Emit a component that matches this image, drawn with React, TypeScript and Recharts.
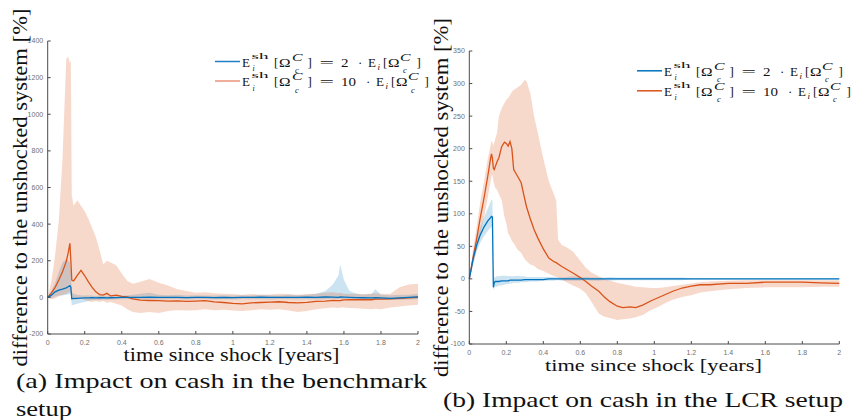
import React from 'react';
import { ComposedChart, Area, Line, XAxis, YAxis } from 'recharts';

// (a) benchmark setup
const tA = [0, 0.02, 0.04, 0.06, 0.08, 0.1, 0.11, 0.12, 0.125, 0.13, 0.14, 0.16, 0.18, 0.2, 0.22, 0.24, 0.26, 0.28, 0.3, 0.32, 0.34, 0.37, 0.4, 0.43, 0.46, 0.5, 0.55, 0.6, 0.65, 0.7, 0.75, 0.8, 0.85, 0.9, 0.95, 1.0, 1.05, 1.1, 1.15, 1.2, 1.25, 1.3, 1.35, 1.4, 1.45, 1.5, 1.54, 1.57, 1.58, 1.6, 1.63, 1.67, 1.7, 1.75, 1.77, 1.8, 1.85, 1.9, 1.95, 2.0];
const aOrange = [0, 25, 55, 95, 140, 195, 240, 295, 200, 95, 90, 120, 148, 118, 85, 55, 30, 15, 12, 22, 8, 12, 5, 2, -8, -15, -17, -18, -20, -19, -22, -20, -18, -25, -28, -33, -35, -30, -28, -26, -24, -28, -30, -27, -22, -20, -16, -18, -17, -14, -12, -13, -12, -13, -10, -10, -8, -5, -2, 0];
const aOrangeLo = [0, -10, -5, 5, 15, 20, 25, 30, 25, -10, -15, -10, -5, -15, -20, -25, -20, -25, -20, -30, -25, -35, -45, -65, -80, -85, -80, -85, -75, -70, -72, -70, -65, -70, -68, -72, -75, -70, -65, -68, -65, -72, -80, -75, -65, -60, -55, -58, -55, -55, -58, -60, -62, -65, -62, -65, -55, -50, -45, -40];
const aOrangeHi = [0, 90, 230, 420, 760, 1300, 1315, 1280, 1290, 560, 500, 530, 500, 470, 430, 380, 330, 260, 180, 200, 190, 175, 130, 90, 75, 85, 100, 80, 65, 45, 35, 25, 28, 22, 20, 18, 15, 18, 15, 16, 20, 18, 15, 18, 20, 25, 28, 22, 25, 20, 18, 20, 18, 20, 22, 20, 18, 55, 70, 75];
const aBlue = [0, 12, 30, 40, 45, 52, 58, 64, 55, -8, -6, -5, -4, -3, -3, -2, -3, -2, -2, -3, -2, -1, 0, 0, 0, 0, 1, 0, 0, 0, -1, 0, 0, -1, 0, -1, 0, 0, 1, 0, 0, 0, 0, 1, 0, 2, 1, 0, 2, 1, 0, -1, -2, -3, -2, -3, -5, -3, 0, 3];
const aBlueLo = [0, -5, 5, 10, 10, 15, 15, 20, 10, -45, -40, -35, -30, -25, -20, -15, -15, -15, -12, -15, -12, -12, -10, -10, -12, -12, -10, -12, -10, -10, -12, -10, -10, -12, -10, -12, -10, -10, -10, -12, -10, -10, -12, -10, -12, -10, -8, -10, -8, -10, -12, -15, -12, -15, -12, -15, -15, -15, -12, -10];
const aBlueHi = [0, 35, 80, 140, 190, 210, 200, 190, 150, 30, 20, 15, 12, 10, 12, 10, 8, 10, 8, 10, 8, 10, 10, 12, 15, 20, 25, 15, 12, 15, 10, 12, 10, 10, 12, 10, 12, 10, 15, 12, 10, 15, 12, 15, 20, 35, 70, 120, 180, 95, 35, 20, 15, 20, 45, 15, 12, 15, 15, 20];

// (b) LCR setup
const tB = [0, 0.02, 0.04, 0.06, 0.08, 0.1, 0.115, 0.12, 0.125, 0.13, 0.135, 0.14, 0.15, 0.16, 0.175, 0.19, 0.2, 0.21, 0.22, 0.23, 0.24, 0.26, 0.28, 0.3, 0.31, 0.33, 0.35, 0.37, 0.4, 0.43, 0.46, 0.47, 0.48, 0.5, 0.53, 0.56, 0.6, 0.63, 0.66, 0.7, 0.73, 0.76, 0.8, 0.83, 0.87, 0.9, 0.94, 0.98, 1.02, 1.06, 1.1, 1.15, 1.2, 1.25, 1.3, 1.4, 1.5, 1.6, 1.7, 1.8, 1.9, 2.0];
const bOrange = [0, 32, 62, 95, 125, 158, 185, 192, 185, 170, 168, 172, 180, 186, 203, 210, 208, 204, 211, 200, 168, 158, 148, 122, 110, 92, 76, 63, 46, 32, 26, 25, 23, 19, 14, 9, 2, -4, -11, -19, -28, -35, -42, -44, -43, -44, -40, -34, -29, -24, -19, -14, -11, -9, -9, -7, -7, -5, -5, -5, -6, -7];
const bOrangeLo = [0, 20, 45, 70, 95, 125, 150, 158, 160, 150, 145, 140, 137, 130, 121, 95, 85, 70, 65, 58, 55, 45, 40, 30, 27, 22, 20, 15, 12, 8, 4, 3, 2, -1, -6, -10, -15, -22, -35, -53, -58, -60, -63, -62, -61, -59, -55, -48, -43, -37, -32, -28, -25, -21, -19, -16, -14, -13, -13, -13, -12, -12];
const bOrangeHi = [0, 45, 80, 120, 150, 185, 205, 212, 210, 205, 210, 215, 225, 250, 262, 270, 275, 278, 282, 287, 290, 294, 298, 306, 303, 285, 250, 225, 185, 150, 128, 120, 60, 52, 48, 42, 28, 17, 10, 4, 0, -3, -6, -8, -10, -12, -13, -14, -14, -13, -11, -9, -7, -5, -4, -3, -2, -2, -2, -2, -2, -2];
const bBlue = [0, 30, 52, 68, 80, 89, 94, 96, 95, -13, -6, -4, -4, -4, -3, -3, -3, -3, -2, -2, -2, -2, -2, -1, -1, -1, -1, -1, -1, 0, 0, 0, 0, 0, 0, 0, 0, 0, 0, 0, 0, 0, 0, 0, 0, 0, 0, 0, 0, 0, 0, 0, 0, 0, 0, 0, 0, 0, 0, 0, 0, 0];
const bBlueLo = [0, 22, 42, 56, 66, 74, 78, 80, 78, -18, -14, -12, -12, -10, -10, -9, -8, -8, -7, -7, -6, -6, -5, -5, -5, -4, -4, -4, -3, -3, -3, -2, -2, -3, -3, -3, -3, -2, -3, -3, -2, -3, -2, -2, -2, -2, -2, -2, -2, -2, -2, -2, -1, -1, -1, -1, -1, -1, -1, -1, -1, -1];
const bBlueHi = [0, 38, 62, 80, 95, 108, 118, 122, 120, -5, 2, 3, 4, 4, 5, 5, 5, 4, 5, 4, 4, 5, 4, 4, 3, 3, 3, 3, 3, 3, 3, 2, 3, 2, 3, 4, 3, 3, 2, 2, 2, 3, 2, 2, 2, 2, 2, 2, 2, 2, 2, 2, 1, 1, 1, 1, 1, 1, 1, 1, 1, 1];

const xTicks = [0, 0.2, 0.4, 0.6, 0.8, 1, 1.2, 1.4, 1.6, 1.8, 2];
const yTicksA = [-200, 0, 200, 400, 600, 800, 1000, 1200, 1400];
const yTicksB = [-100, -50, 0, 50, 100, 150, 200, 250, 300, 350];

const BLUE = '#0072BD';
const ORANGE = '#D95319';
const SERIF = "'Liberation Serif', 'DejaVu Serif', serif";
const tickStyle = { fontSize: 7, fill: '#6f6f6f', fontFamily: "'Liberation Sans', Arial, sans-serif" };

const buildRows = (t: number[], o: number[], oLo: number[], oHi: number[], b: number[], bLo: number[], bHi: number[]) =>
  t.map((x, i) => ({ t: x, o: o[i], b: b[i], oBand: [oLo[i], oHi[i]], bBand: [bLo[i], bHi[i]] }));

const rowsA = buildRows(tA, aOrange, aOrangeLo, aOrangeHi, aBlue, aBlueLo, aBlueHi);
const rowsB = buildRows(tB, bOrange, bOrangeLo, bOrangeHi, bBlue, bBlueLo, bBlueHi);

interface PanelProps {
  rows: any[];
  width: number;
  height: number;
  margin: { top: number; right: number; bottom: number; left: number };
  yAxisWidth: number;
  yDomain: [number, number];
  yTicks: number[];
}

const Panel: React.FC<PanelProps> = ({ rows, width, height, margin, yAxisWidth, yDomain, yTicks }) => (
  <ComposedChart width={width} height={height} data={rows} margin={margin}>
    <XAxis
      dataKey="t"
      type="number"
      domain={[0, 2]}
      ticks={xTicks}
      interval={0}
      height={10}
      tickSize={-3}
      tickMargin={9}
      tick={tickStyle}
      stroke="#4a4a4a"
    />
    <YAxis
      type="number"
      domain={yDomain}
      ticks={yTicks}
      interval={0}
      width={yAxisWidth}
      tickSize={-3}
      tickMargin={7.5}
      tick={tickStyle}
      stroke="#4a4a4a"
      allowDataOverflow
    />
    <Area dataKey="bBand" type="linear" stroke="none" fill={BLUE} fillOpacity={0.2} isAnimationActive={false} />
    <Area dataKey="oBand" type="linear" stroke="none" fill={ORANGE} fillOpacity={0.22} isAnimationActive={false} />
    <Line dataKey="o" type="linear" stroke={ORANGE} strokeWidth={1.3} dot={false} isAnimationActive={false} />
    <Line dataKey="b" type="linear" stroke={BLUE} strokeWidth={1.3} dot={false} isAnimationActive={false} />
  </ComposedChart>
);

// one legend entry: line sample + E_i^sh[Ω_c^C] = k · E_i[Ω_c^C]
const LegendRow: React.FC<{ x: number; y: number; color: string; coef: string }> = ({ x, y, color, coef }) => {
  const e = x + 27;
  const s = coef.length > 1 ? 0 : -8;
  const f = { style: { fontFamily: SERIF }, fill: '#111' };
  return (
    <g>
      <line x1={x} x2={x + 25} y1={y - 5} y2={y - 5} stroke={color} strokeWidth={1.5} />
      <text x={e} y={y} fontSize={13} {...f}>E</text>
      <text x={e + 9.5} y={y - 8} fontSize={9} textLength={17} lengthAdjust="spacingAndGlyphs" {...f}>sh</text>
      <text x={e + 10.5} y={y + 4.5} fontSize={8} fontStyle="italic" {...f}>i</text>
      <text x={e + 32} y={y} fontSize={13} {...f}>[</text>
      <text x={e + 37} y={y} fontSize={13} textLength={11.5} lengthAdjust="spacingAndGlyphs" {...f}>Ω</text>
      <text x={e + 50} y={y - 6} fontSize={10.5} fontStyle="italic" textLength={10.5} lengthAdjust="spacingAndGlyphs" {...f}>C</text>
      <text x={e + 53} y={y + 6.5} fontSize={8.5} fontStyle="italic" {...f}>c</text>
      <text x={e + 65.5} y={y} fontSize={13} {...f}>]</text>
      <text x={e + 77.5} y={y} fontSize={13} textLength={14.5} lengthAdjust="spacingAndGlyphs" {...f}>=</text>
      <text x={e + 99} y={y} fontSize={13} textLength={coef.length * 7.5} lengthAdjust="spacingAndGlyphs" {...f}>{coef}</text>
      <text x={e + 124 + s} y={y} fontSize={13} {...f}>·</text>
      <text x={e + 134 + s} y={y} fontSize={13} {...f}>E</text>
      <text x={e + 143.5 + s} y={y + 3} fontSize={9} fontStyle="italic" {...f}>i</text>
      <text x={e + 149 + s} y={y} fontSize={13} {...f}>[</text>
      <text x={e + 154 + s} y={y} fontSize={13} textLength={11.5} lengthAdjust="spacingAndGlyphs" {...f}>Ω</text>
      <text x={e + 166 + s} y={y - 6} fontSize={10.5} fontStyle="italic" textLength={10.5} lengthAdjust="spacingAndGlyphs" {...f}>C</text>
      <text x={e + 169 + s} y={y + 6.5} fontSize={8.5} fontStyle="italic" {...f}>c</text>
      <text x={e + 182.5 + s} y={y} fontSize={13} {...f}>]</text>
    </g>
  );
};

export default function App() {
  const txt = { style: { fontFamily: SERIF }, fill: '#111', lengthAdjust: 'spacingAndGlyphs' as const };
  return (
    <div style={{ position: 'absolute', left: 0, top: 0, width: 852, height: 420, background: '#fff', overflow: 'hidden' }}>
      <div style={{ position: 'absolute', left: 0, top: 0 }}>
        <Panel
          rows={rowsA}
          width={430}
          height={350}
          margin={{ top: 41, right: 12, bottom: 6, left: 7.7 }}
          yAxisWidth={40}
          yDomain={[-200, 1400]}
          yTicks={yTicksA}
        />
      </div>
      <div style={{ position: 'absolute', left: 430, top: 0 }}>
        <Panel
          rows={rowsB}
          width={422}
          height={360}
          margin={{ top: 51, right: 12.7, bottom: 6, left: 7.3 }}
          yAxisWidth={32}
          yDomain={[-100, 350]}
          yTicks={yTicksB}
        />
      </div>
      <svg width={852} height={420} style={{ position: 'absolute', left: 0, top: 0, pointerEvents: 'none' }}>
        <text transform="translate(26.5,187.5) rotate(-90)" textAnchor="middle" fontSize={21} textLength={358} {...txt}>
          difference to the unshocked system [%]
        </text>
        <text transform="translate(448,197.5) rotate(-90)" textAnchor="middle" fontSize={21} textLength={359} {...txt}>
          difference to the unshocked system [%]
        </text>
        <text x={123.5} y={360.5} fontSize={18} textLength={216} {...txt}>time since shock [years]</text>
        <text x={545} y={370.5} fontSize={17} textLength={217} {...txt}>time since shock [years]</text>
        <text x={16} y={388} fontSize={22} textLength={411} {...txt}>(a) Impact on cash in the benchmark</text>
        <text x={16} y={416} fontSize={22} textLength={56} {...txt}>setup</text>
        <text x={443} y={406.5} fontSize={22} textLength={400} {...txt}>(b) Impact on cash in the LCR setup</text>
        <LegendRow x={215} y={66.5} color="#1d7fc4" coef="2" />
        <LegendRow x={215} y={86} color="#ea9379" coef="10" />
        <LegendRow x={637} y={75.8} color={BLUE} coef="2" />
        <LegendRow x={637} y={95.8} color={ORANGE} coef="10" />
      </svg>
    </div>
  );
}
